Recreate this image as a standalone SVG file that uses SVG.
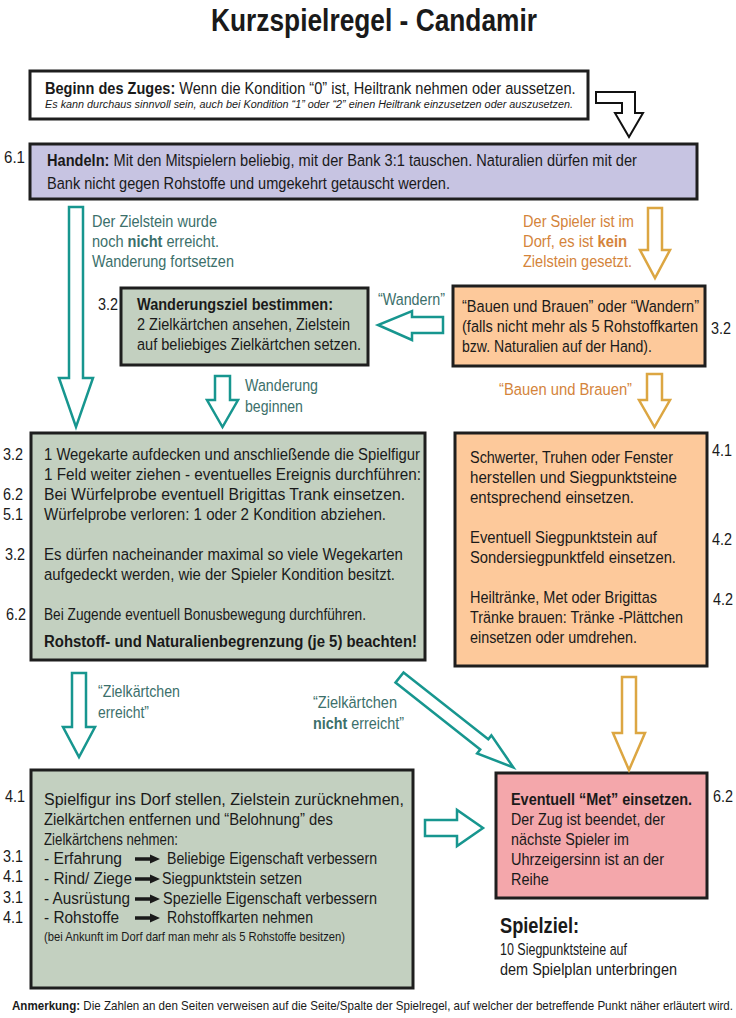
<svg xmlns="http://www.w3.org/2000/svg" width="736" height="1018" viewBox="0 0 736 1018">
<defs>
<style>
text{font-family:"Liberation Sans",Arial,sans-serif;fill:#1a1a1a;font-size:16.8px}
.b{font-weight:bold}
.teal{fill:#3c706b}
.org{fill:#d4843b}
.box{stroke:#1e1e1e;stroke-width:3}
.ta{fill:#fff;stroke:#17968f;stroke-width:2.5}
.oa{fill:#fff;stroke:#dca642;stroke-width:2.5}
.ka{fill:#fff;stroke:#111;stroke-width:2}
</style>
<path id="sa" d="M0,-1.8 H15 V-4.5 L25,0 L15,4.5 V1.8 H0 Z" fill="#1a1a1a"/>
</defs>
<rect width="736" height="1018" fill="#fff"/>

<g id="title">
<text transform="translate(374,31) scale(.86,1)" text-anchor="middle" class="b" style="font-size:31px" textLength="379" lengthAdjust="spacingAndGlyphs">Kurzspielregel - Candamir</text>
</g>

<g id="beginn">
<rect class="box" x="30" y="71" width="558" height="48" fill="#fff"/>
<text transform="translate(45,94) scale(.86,1)" textLength="617" lengthAdjust="spacingAndGlyphs"><tspan class="b">Beginn des Zuges:</tspan> Wenn die Kondition “0” ist, Heiltrank nehmen oder aussetzen.</text>
<text transform="translate(45,108) scale(.86,1)" style="font-size:11.5px;font-style:italic" textLength="614" lengthAdjust="spacingAndGlyphs">Es kann durchaus sinnvoll sein, auch bei Kondition “1” oder “2” einen Heiltrank einzusetzen oder auszusetzen.</text>
</g>

<g id="handeln">
<rect class="box" x="30" y="144" width="667" height="55" fill="#c7c4e2"/>
<text transform="translate(4,163) scale(.86,1)" textLength="24.4" lengthAdjust="spacingAndGlyphs">6.1</text>
<text transform="translate(47,166) scale(.86,1)" textLength="686" lengthAdjust="spacingAndGlyphs"><tspan class="b">Handeln:</tspan> Mit den Mitspielern beliebig, mit der Bank 3:1 tauschen. Naturalien dürfen mit der</text>
<text transform="translate(47,189) scale(.86,1)" textLength="468.6" lengthAdjust="spacingAndGlyphs">Bank nicht gegen Rohstoffe und umgekehrt getauscht werden.</text>
</g>

<g id="wanderungsziel">
<rect class="box" x="121" y="288" width="247" height="77" fill="#c3d0c0"/>
<text transform="translate(98,310) scale(.86,1)" textLength="23.3" lengthAdjust="spacingAndGlyphs">3.2</text>
<text transform="translate(137,310) scale(.86,1)" class="b" textLength="227.9" lengthAdjust="spacingAndGlyphs">Wanderungsziel bestimmen:</text>
<text transform="translate(137,330) scale(.86,1)" textLength="247.7" lengthAdjust="spacingAndGlyphs">2 Zielkärtchen ansehen, Zielstein</text>
<text transform="translate(137,350) scale(.86,1)" textLength="260.5" lengthAdjust="spacingAndGlyphs">auf beliebiges Zielkärtchen setzen.</text>
</g>

<g id="wahl">
<rect class="box" x="453" y="286" width="252" height="80" fill="#fdc99b"/>
<text transform="translate(462,312) scale(.86,1)" textLength="275.6" lengthAdjust="spacingAndGlyphs">“Bauen und Brauen” oder “Wandern”</text>
<text transform="translate(462,332) scale(.86,1)" textLength="274.4" lengthAdjust="spacingAndGlyphs">(falls nicht mehr als 5 Rohstoffkarten</text>
<text transform="translate(462,352) scale(.86,1)" textLength="220.9" lengthAdjust="spacingAndGlyphs">bzw. Naturalien auf der Hand).</text>
<text transform="translate(711,334) scale(.86,1)" textLength="23.3" lengthAdjust="spacingAndGlyphs">3.2</text>
</g>

<g id="wandern">
<rect class="box" x="31" y="433" width="394" height="227" fill="#c3d0c0"/>
<text transform="translate(3,460) scale(.86,1)" textLength="23.3" lengthAdjust="spacingAndGlyphs">3.2</text>
<text transform="translate(3,500) scale(.86,1)" textLength="23.3" lengthAdjust="spacingAndGlyphs">6.2</text>
<text transform="translate(3,520) scale(.86,1)" textLength="23.3" lengthAdjust="spacingAndGlyphs">5.1</text>
<text transform="translate(5,560) scale(.86,1)" textLength="23.3" lengthAdjust="spacingAndGlyphs">3.2</text>
<text transform="translate(6,620) scale(.86,1)" textLength="23.3" lengthAdjust="spacingAndGlyphs">6.2</text>
<text transform="translate(44,460) scale(.86,1)" textLength="437.2" lengthAdjust="spacingAndGlyphs">1 Wegekarte aufdecken und anschließende die Spielfigur</text>
<text transform="translate(44,480) scale(.86,1)" textLength="438.4" lengthAdjust="spacingAndGlyphs">1 Feld weiter ziehen - eventuelles Ereignis durchführen:</text>
<text transform="translate(44,500) scale(.86,1)" textLength="419.8" lengthAdjust="spacingAndGlyphs">Bei Würfelprobe eventuell Brigittas Trank einsetzen.</text>
<text transform="translate(44,520) scale(.86,1)" textLength="397.7" lengthAdjust="spacingAndGlyphs">Würfelprobe verloren: 1 oder 2 Kondition abziehen.</text>
<text transform="translate(44,560) scale(.86,1)" textLength="417.4" lengthAdjust="spacingAndGlyphs">Es dürfen nacheinander maximal so viele Wegekarten</text>
<text transform="translate(44,580) scale(.86,1)" textLength="408.1" lengthAdjust="spacingAndGlyphs">aufgedeckt werden, wie der Spieler Kondition besitzt.</text>
<text transform="translate(44,620) scale(.86,1)" textLength="374.4" lengthAdjust="spacingAndGlyphs">Bei Zugende eventuell Bonusbewegung durchführen.</text>
<text transform="translate(44,647) scale(.86,1)" class="b" textLength="433.7" lengthAdjust="spacingAndGlyphs">Rohstoff- und Naturalienbegrenzung (je 5) beachten!</text>
</g>

<g id="bauen">
<rect class="box" x="455" y="433" width="252" height="233" fill="#fdc99b"/>
<text transform="translate(712,456) scale(.86,1)" textLength="23.3" lengthAdjust="spacingAndGlyphs">4.1</text>
<text transform="translate(712,545) scale(.86,1)" textLength="23.3" lengthAdjust="spacingAndGlyphs">4.2</text>
<text transform="translate(713,605) scale(.86,1)" textLength="23.3" lengthAdjust="spacingAndGlyphs">4.2</text>
<text transform="translate(470,463) scale(.86,1)" textLength="236" lengthAdjust="spacingAndGlyphs">Schwerter, Truhen oder Fenster</text>
<text transform="translate(470,483) scale(.86,1)" textLength="240.7" lengthAdjust="spacingAndGlyphs">herstellen und Siegpunktsteine</text>
<text transform="translate(470,503) scale(.86,1)" textLength="190.7" lengthAdjust="spacingAndGlyphs">entsprechend einsetzen.</text>
<text transform="translate(470,543) scale(.86,1)" textLength="217.4" lengthAdjust="spacingAndGlyphs">Eventuell Siegpunktstein auf</text>
<text transform="translate(470,563) scale(.86,1)" textLength="239.5" lengthAdjust="spacingAndGlyphs">Sondersiegpunktfeld  einsetzen.</text>
<text transform="translate(470,603) scale(.86,1)" textLength="217.4" lengthAdjust="spacingAndGlyphs">Heiltränke, Met oder Brigittas</text>
<text transform="translate(470,623) scale(.86,1)" textLength="247.7" lengthAdjust="spacingAndGlyphs">Tränke brauen: Tränke -Plättchen</text>
<text transform="translate(470,643) scale(.86,1)" textLength="194.2" lengthAdjust="spacingAndGlyphs">einsetzen oder umdrehen.</text>
</g>

<g id="ziel-erreicht">
<rect class="box" x="31" y="770" width="382" height="218" fill="#c3d0c0"/>
<text transform="translate(5,802) scale(.86,1)" textLength="23.3" lengthAdjust="spacingAndGlyphs">4.1</text>
<text transform="translate(3,862) scale(.86,1)" textLength="23.3" lengthAdjust="spacingAndGlyphs">3.1</text>
<text transform="translate(3,882) scale(.86,1)" textLength="23.3" lengthAdjust="spacingAndGlyphs">4.1</text>
<text transform="translate(3,903) scale(.86,1)" textLength="23.3" lengthAdjust="spacingAndGlyphs">3.1</text>
<text transform="translate(3,923) scale(.86,1)" textLength="23.3" lengthAdjust="spacingAndGlyphs">4.1</text>
<text transform="translate(44,805) scale(.86,1)" textLength="418.6" lengthAdjust="spacingAndGlyphs">Spielfigur ins Dorf stellen, Zielstein zurücknehmen,</text>
<text transform="translate(44,825) scale(.86,1)" textLength="336" lengthAdjust="spacingAndGlyphs">Zielkärtchen entfernen und “Belohnung” des</text>
<text transform="translate(44,845) scale(.86,1)" textLength="155.8" lengthAdjust="spacingAndGlyphs">Zielkärtchens nehmen:</text>
<text transform="translate(44,864) scale(.86,1)" textLength="90.7" lengthAdjust="spacingAndGlyphs">- Erfahrung</text>
<use href="#sa" x="135" y="859"/>
<text transform="translate(167,864) scale(.86,1)" textLength="244.2" lengthAdjust="spacingAndGlyphs">Beliebige Eigenschaft verbessern</text>
<text transform="translate(44,884) scale(.86,1)" textLength="102.3" lengthAdjust="spacingAndGlyphs">- Rind/ Ziege</text>
<use href="#sa" x="135" y="879"/>
<text transform="translate(162,884) scale(.86,1)" textLength="162.8" lengthAdjust="spacingAndGlyphs">Siegpunktstein setzen</text>
<text transform="translate(44,904) scale(.86,1)" textLength="100" lengthAdjust="spacingAndGlyphs">- Ausrüstung</text>
<use href="#sa" x="135" y="899"/>
<text transform="translate(163,904) scale(.86,1)" textLength="248.8" lengthAdjust="spacingAndGlyphs">Spezielle Eigenschaft verbessern</text>
<text transform="translate(44,923) scale(.86,1)" textLength="87.2" lengthAdjust="spacingAndGlyphs">- Rohstoffe</text>
<use href="#sa" x="135" y="918"/>
<text transform="translate(167,923) scale(.86,1)" textLength="169.8" lengthAdjust="spacingAndGlyphs">Rohstoffkarten nehmen</text>
<text transform="translate(44,941) scale(.86,1)" style="font-size:12px" textLength="350" lengthAdjust="spacingAndGlyphs">(bei Ankunft im Dorf darf man mehr als 5 Rohstoffe besitzen)</text>
</g>

<g id="ende">
<rect class="box" x="496" y="773" width="211" height="125" fill="#f4a7ab"/>
<text transform="translate(713,802) scale(.86,1)" textLength="23.3" lengthAdjust="spacingAndGlyphs">6.2</text>
<text transform="translate(511,805) scale(.86,1)" class="b" textLength="210.5" lengthAdjust="spacingAndGlyphs">Eventuell “Met” einsetzen.</text>
<text transform="translate(511,825) scale(.86,1)" textLength="179.1" lengthAdjust="spacingAndGlyphs">Der Zug ist beendet, der</text>
<text transform="translate(511,845) scale(.86,1)" textLength="137.2" lengthAdjust="spacingAndGlyphs">nächste Spieler im</text>
<text transform="translate(511,865) scale(.86,1)" textLength="177.9" lengthAdjust="spacingAndGlyphs">Uhrzeigersinn ist an der</text>
<text transform="translate(511,885) scale(.86,1)">Reihe</text>
</g>

<g id="spielziel">
<text transform="translate(500,933) scale(.86,1)" class="b" style="font-size:21.5px" textLength="91.9" lengthAdjust="spacingAndGlyphs">Spielziel:</text>
<text transform="translate(500,955) scale(.86,1)" textLength="147.7" lengthAdjust="spacingAndGlyphs">10 Siegpunktsteine auf</text>
<text transform="translate(500,975) scale(.86,1)" textLength="205.8" lengthAdjust="spacingAndGlyphs">dem Spielplan unterbringen</text>
</g>

<g id="anmerkung">
<text transform="translate(12,1010) scale(.86,1)" style="font-size:12.5px" textLength="838.4" lengthAdjust="spacingAndGlyphs"><tspan class="b">Anmerkung:</tspan> Die Zahlen an den Seiten verweisen auf die Seite/Spalte der Spielregel, auf welcher  der betreffende Punkt näher erläutert wird.</text>
</g>

<g id="connectors">
<polygon class="ka" points="596,92 635,92 635,113 643,113 629,137 615,113 622,113 622,103 596,103"/>
<polygon class="ta" points="69,207 83,207 83,378 93,378 76,427 59,378 69,378"/>
<text class="teal" transform="translate(92,227) scale(.86,1)" textLength="145.3" lengthAdjust="spacingAndGlyphs">Der Zielstein wurde</text>
<text class="teal" transform="translate(92,247) scale(.86,1)" textLength="147.7" lengthAdjust="spacingAndGlyphs">noch <tspan class="b teal">nicht</tspan> erreicht.</text>
<text class="teal" transform="translate(92,267) scale(.86,1)" textLength="165.1" lengthAdjust="spacingAndGlyphs">Wanderung fortsetzen</text>
<polygon class="oa" points="648,208 662,208 662,250 670,250 655,278 640,250 648,250"/>
<text class="org" transform="translate(523,227) scale(.86,1)" textLength="129.1" lengthAdjust="spacingAndGlyphs">Der Spieler ist im</text>
<text class="org" transform="translate(523,247) scale(.86,1)" textLength="120.9" lengthAdjust="spacingAndGlyphs">Dorf, es ist <tspan class="b org">kein</tspan></text>
<text class="org" transform="translate(523,267) scale(.86,1)" textLength="126.7" lengthAdjust="spacingAndGlyphs">Zielstein gesetzt.</text>
<text class="teal" transform="translate(378,305) scale(.86,1)" textLength="77.9" lengthAdjust="spacingAndGlyphs">“Wandern”</text>
<polygon class="ta" points="443,317 443,333 412,333 412,340 378,325 412,311 412,317"/>
<polygon class="ta" points="215,376 230,376 230,400 238,400 222.5,427 207,400 215,400"/>
<text class="teal" transform="translate(245,391) scale(.86,1)" textLength="84.9" lengthAdjust="spacingAndGlyphs">Wanderung</text>
<text class="teal" transform="translate(245,412) scale(.86,1)" textLength="67.4" lengthAdjust="spacingAndGlyphs">beginnen</text>
<text class="org" transform="translate(499,395) scale(.86,1)" textLength="154.7" lengthAdjust="spacingAndGlyphs">“Bauen und Brauen”</text>
<polygon class="oa" points="647,374 662,374 662,400 670,400 654.5,427 639,400 647,400"/>
<polygon class="ta" points="72,673 86,673 86,727 95,727 79,757 63,727 72,727"/>
<text class="teal" transform="translate(98,697) scale(.86,1)" textLength="95.3" lengthAdjust="spacingAndGlyphs">“Zielkärtchen</text>
<text class="teal" transform="translate(98,718) scale(.86,1)" textLength="59.3" lengthAdjust="spacingAndGlyphs">erreicht”</text>
<polygon class="ta" transform="translate(399.5,677.5) rotate(38.3)" points="0,-6.5 108,-6.5 108,-11.5 145,0 108,11.5 108,6.5 0,6.5"/>
<text class="teal" transform="translate(313,708) scale(.86,1)" textLength="97.7" lengthAdjust="spacingAndGlyphs">“Zielkärtchen</text>
<text class="teal" transform="translate(313,729) scale(.86,1)" textLength="105.8" lengthAdjust="spacingAndGlyphs"><tspan class="b teal">nicht</tspan> erreicht”</text>
<polygon class="oa" points="622,677 636,677 636,733 645,733 629,770 613,733 622,733"/>
<polygon class="ta" points="425,820 457,820 457,810 483,828 457,846 457,836 425,836"/>
</g>
</svg>
